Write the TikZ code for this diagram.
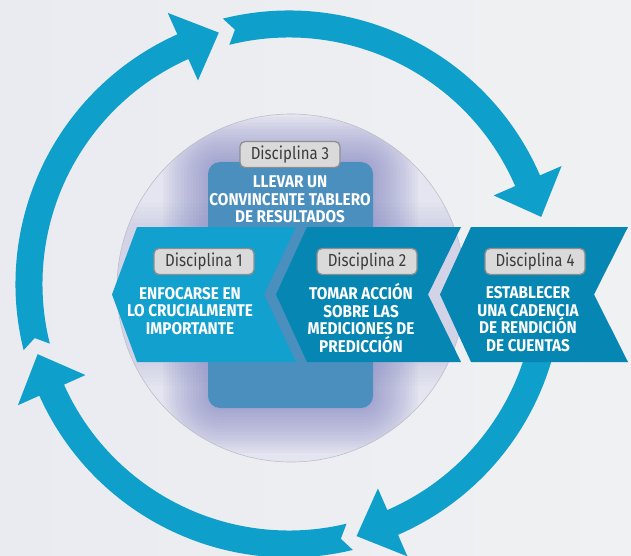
\documentclass[tikz,border=0pt]{standalone}
\usepackage{fontspec}
\newfontfamily\labfont[FakeStretch=0.86]{Fira Sans}
\newfontfamily\titfont[FakeStretch=0.9]{Fira Sans}
\definecolor{ring}{HTML}{0E9FCB}
\definecolor{chevA}{HTML}{12A0CE}
\definecolor{chevB}{HTML}{0686B2}
\definecolor{boxc}{HTML}{4A8FBD}
\definecolor{labfill}{HTML}{DADADA}
\definecolor{labdraw}{HTML}{8E8E8E}
\definecolor{labtext}{HTML}{3C3C3C}
\definecolor{glow}{HTML}{7C80C0}
\definecolor{disc}{HTML}{E4E5F0}
\definecolor{discedge}{HTML}{BDBEC8}
\definecolor{bgL}{HTML}{E9EBF1}
\definecolor{bgR}{HTML}{F0F1F2}
\newcommand\ringseg[2]{%
  \pgfmathsetmacro\hb{#2-8.5}%
  \pgfmathsetmacro\nt{#1+2}%
  \fill[ring] (#1:273.5) arc[start angle=#1, end angle=\hb, radius=273.5]
    -- (\hb:297) -- (#2:261) -- (\hb:223) -- (\hb:246.5)
    arc[start angle=\hb, end angle=#1, radius=246.5] -- (\nt:260) -- cycle;
}
\newcommand\chevshape[5]{% fill, top-left x, point x, top-right x, notch x
  \fill[#1] (#2,227) -- (#4,227) -- (#5,294.5) -- (#4,362) -- (#2,362) -- (#3,294.5) -- cycle;
}
\begin{document}
\begin{tikzpicture}[x=1pt,y=-1pt,
  lab/.style={draw=labdraw, line width=1.3pt, fill=labfill, rounded corners=5pt,
    minimum width=100pt, minimum height=26pt, inner sep=0pt, text=labtext,
    font={\labfont\fontsize{17.5}{17.5}\selectfont}},
  title/.style={text=white, align=center, inner sep=0pt,
    font={\titfont\bfseries\fontsize{17}{17.5}\selectfont}},
  centralbox/.style={fill=boxc, rounded corners=12pt, minimum width=165pt,
    minimum height=246pt, inner sep=0pt}]
\useasboundingbox (0,0) rectangle (631,556);
\shade[left color=bgL, right color=bgR] (0,0) rectangle (631,556);
% ring of arrows
\begin{scope}[shift={(289,284)}]
  \ringseg{166}{254.4}
  \ringseg{256}{345.1}
  \ringseg{352}{435}
  \ringseg{76.5}{164.4}
\end{scope}
% lavender disc with glow
\begin{scope}
  \clip (291,288) circle (174);
  \fill[disc] (291,288) circle (174);
  \foreach \i in {1,...,6} {
    \pgfmathsetmacro\rr{4*\i}
    \fill[glow, opacity=0.025] (112-\rr,227-\rr) rectangle (462+\rr,362+\rr);
  }
  \foreach \i in {1,...,15} {
    \pgfmathsetmacro\rr{3*\i}
    \pgfmathsetmacro\rc{12+3*\i}
    \fill[glow, opacity=0.05, rounded corners=\rc pt] (208-\rr,162-\rr) rectangle (373+\rr,408+\rr);
  }
\end{scope}
\draw[discedge, line width=0.6pt] (291,288) circle (174);
% central box (discipline 3)
\node[centralbox] (box3) at (290.5,285) {};
% chevrons
\chevshape{chevA}{137}{112}{296}{264}
\chevshape{chevB}{307}{276}{461}{428}
\chevshape{chevB}{471}{440}{628}{594}
% labels
\node[lab] (l3) at (290,154.5) {Disciplina 3};
\node[lab] (l1) at (204,261.5) {Disciplina 1};
\node[lab] (l2) at (367,261.5) {Disciplina 2};
\node[lab] (l4) at (535,261.5) {Disciplina 4};
% texts
\node[title] (t3) at (290,199.5) {LLEVAR UN\\CONVINCENTE TABLERO\\DE RESULTADOS};
\node[title] (t1) at (190,311) {ENFOCARSE EN\\LO CRUCIALMENTE\\IMPORTANTE};
\node[title] (t2) at (361,318) {TOMAR ACCIÓN\\SOBRE LAS\\MEDICIONES DE\\PREDICCIÓN};
\node[title] (t4) at (528,319) {ESTABLECER\\UNA CADENCIA\\DE RENDICIÓN\\DE CUENTAS};
\end{tikzpicture}
\end{document}
